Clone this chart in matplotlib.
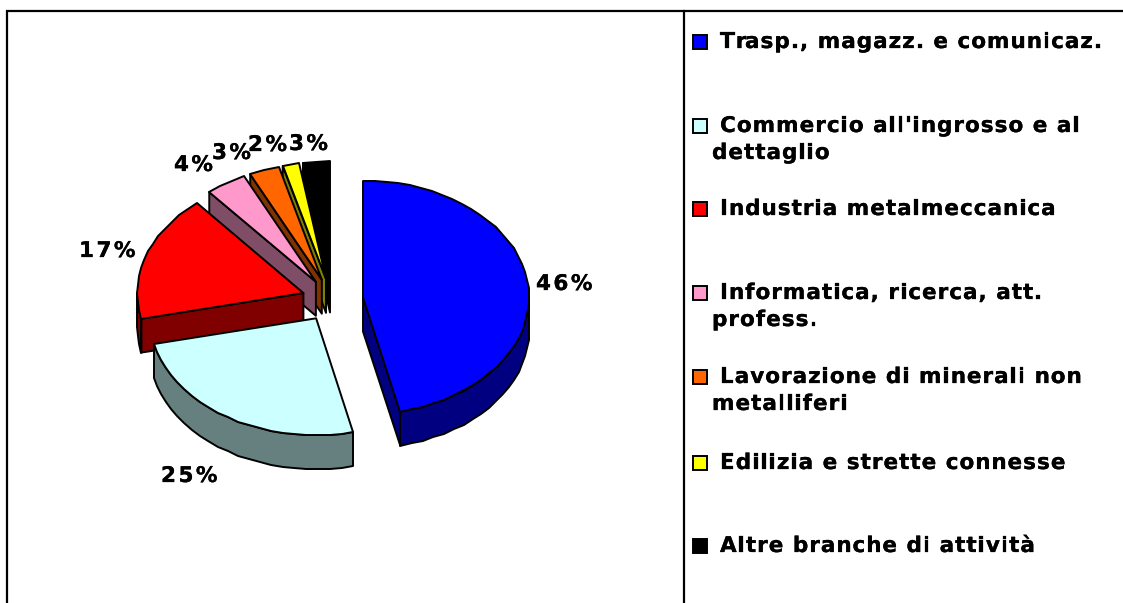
import numpy as np
import matplotlib
matplotlib.use("Agg")
import matplotlib.pyplot as plt
import matplotlib.patheffects as pe
from matplotlib.patches import Polygon, Rectangle
from matplotlib.text import Text
from matplotlib.transforms import IdentityTransform, Bbox

categories = ["Trasp., magazz. e comunicaz.",
              "Commercio all'ingrosso e al\ndettaglio",
              "Industria metalmeccanica",
              "Informatica, ricerca, att.\nprofess.",
              "Lavorazione di minerali non\nmetalliferi",
              "Edilizia e strette connesse",
              "Altre branche di attività"]
values = [46.4, 25.1, 17.4, 4.0, 2.9, 1.6, 2.6]
top_colors = ["#0000FF", "#CCFFFF", "#FF0000", "#FF99CC", "#FF6600", "#FFFF00", "#000000"]
side_colors = ["#000080", "#668080", "#800000", "#804D66", "#803300", "#808000", "#000000"]

# layout (pixels)
W, H = 1123, 603
CX, CY, RX, RY, DEPTH, EXPLODE = 332.5, 300.0, 166.0, 117.0, 34.0, 0.185
label_left = [536, 161, 79, 174, 212, 248, 289]
label_base = [290, 482, 257, 171, 159, 151, 150]
legend_y = [41, 125, 208, 292, 376, 462, 545]
FS_LEG, FS_PCT = 15.5, 15.5
SP_LEG, SP_PCT = 1.0, 2.5
STROKE = 0.18


class SpacedText(Text):
    """One text object whose glyphs are drawn with extra letter spacing."""

    def __init__(self, x, y, s, spacing=0.0, **kw):
        super().__init__(x, y, s, ha="left", va="baseline", **kw)
        self._spacing = spacing

    def draw(self, renderer):
        s = self.get_text()
        x0, y0 = self.get_transform().transform(self.get_position())
        fp = self.get_fontproperties()
        for i, ch in enumerate(s):
            w = renderer.get_text_width_height_descent(s[:i], fp, False)[0] if i else 0
            g = Text(x0 + w + i * self._spacing, y0, ch, ha="left", va="baseline",
                     fontproperties=fp, color=self.get_color(),
                     transform=IdentityTransform())
            g.set_figure(self.get_figure())
            g.set_path_effects([pe.withStroke(linewidth=STROKE, foreground="black")])
            g.draw(renderer)

    def get_window_extent(self, renderer=None, dpi=None):
        b = super().get_window_extent(renderer, dpi)
        return Bbox.from_extents(b.x0, b.y0, b.x1 + self._spacing * (len(self.get_text()) - 1), b.y1)


fig = plt.figure(figsize=(W / 100, H / 100), dpi=100)
ax = fig.add_axes([0, 0, 1, 1])
ax.set_xlim(0, W)
ax.set_ylim(H, 0)
ax.axis("off")


def spaced(x, y, s, fs, sp):
    t = SpacedText(x, y, s, spacing=sp, fontsize=fs, fontweight="bold",
                   family="DejaVu Sans", color="black", transform=ax.transData)
    t.set_figure(fig)
    ax.add_artist(t)
    return t


# frame
ax.plot([7, 7, W], [H, 11, 11], color="black", lw=1.6, solid_joinstyle="miter")
ax.plot([684, 684], [11, H], color="black", lw=1.6)

EC = dict(edgecolor="black", linewidth=1.4, joinstyle="round")


def pt(t, ox, oy):
    return ox + RX * np.sin(t), oy - RY * np.cos(t)


def rim(t0, t1, ox, oy):
    n = max(2, int(np.degrees(t1 - t0) / 4) + 1)
    t = np.linspace(t0, t1, n)
    x, y = pt(t, ox, oy)
    return np.column_stack([np.round(x), np.round(y)])


total = sum(values)
edges = np.concatenate([[0], np.cumsum(values)]) / total * 2 * np.pi
order = [6, 5, 4, 3, 2, 1, 0]
for i in order:
    t0, t1 = edges[i], edges[i + 1]
    mid = (t0 + t1) / 2
    ox = CX + EXPLODE * RX * np.sin(mid)
    oy = CY - EXPLODE * RY * np.cos(mid)
    down = np.array([0, DEPTH])
    apex = np.array([ox, oy])
    # radial side faces
    if np.pi <= t0 < 2 * np.pi:
        p = np.array(pt(t0, ox, oy))
        ax.add_patch(Polygon([apex, p, p + down, apex + down], closed=True,
                             facecolor=side_colors[i], **EC))
    if 0 < t1 <= np.pi:
        p = np.array(pt(t1, ox, oy))
        ax.add_patch(Polygon([apex, p, p + down, apex + down], closed=True,
                             facecolor=side_colors[i], **EC))
    # outer rim face (lower half of the ellipse)
    a, b = max(t0, np.pi / 2), min(t1, 3 * np.pi / 2)
    if a < b:
        r = rim(a, b, ox, oy)
        ax.add_patch(Polygon(np.vstack([r, (r + down)[::-1]]), closed=True,
                             facecolor=side_colors[i], **EC))
    # top face
    ax.add_patch(Polygon(np.vstack([apex, rim(t0, t1, ox, oy)]), closed=True,
                         facecolor=top_colors[i], **EC))

# percentage labels
for v, x, y in zip(values, label_left, label_base):
    spaced(x, y, f"{v:.0f}%", FS_PCT, SP_PCT)

# legend
for name, c, y in zip(categories, top_colors, legend_y):
    ax.add_patch(Rectangle((692.5, y - 6), 14, 14, facecolor=c, edgecolor="black", linewidth=1.4))
    lines = name.split("\n")
    spaced(720, y + 7, lines[0], FS_LEG, SP_LEG)
    if len(lines) > 1:
        spaced(712, y + 34, lines[1], FS_LEG, SP_LEG)

fig.savefig("out.png", dpi=100, facecolor="white")
